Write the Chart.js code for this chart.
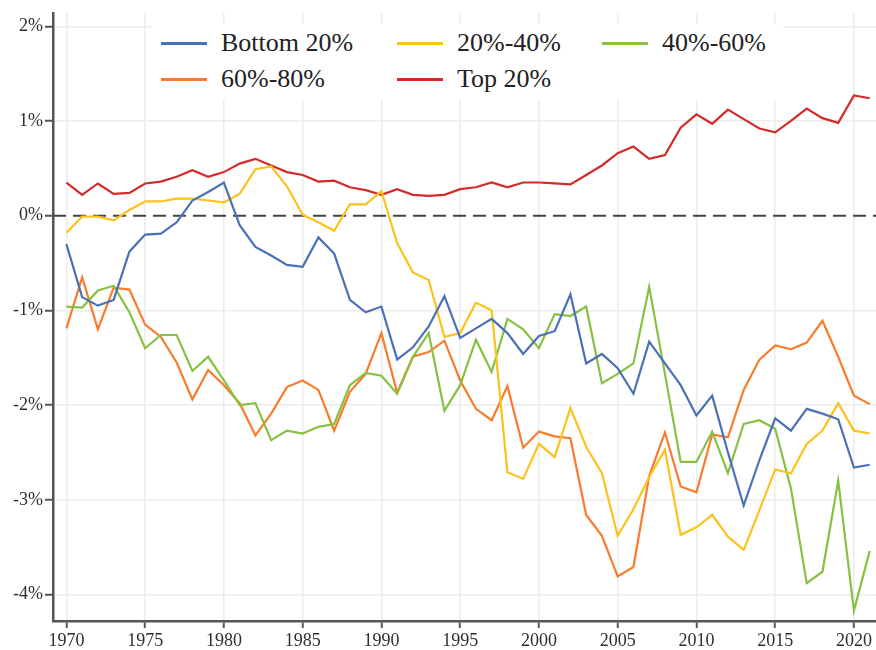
<!DOCTYPE html>
<html>
<head>
<meta charset="utf-8">
<script src="https://cdn.jsdelivr.net/npm/chart.js@4"></script>
<style>
  html, body { margin: 0; padding: 0; background: #fff; }
  #wrap { position: relative; width: 876px; height: 650px; }
  #legend {
    position: absolute; left: 152px; top: 24px; width: 631px; height: 76px;
    background: #fff; font-family: "Liberation Serif", "Times New Roman", serif;
    font-size: 26px; color: #222;
  }
  .item { position: absolute; display: flex; align-items: center; height: 30px; white-space: nowrap; }
  .item i { display: block; width: 46px; height: 3px; margin-right: 14px; }
</style>
</head>
<body>
<div id="wrap">
  <canvas id="c" width="876" height="650"></canvas>
  <div id="legend"></div>
</div>
<script>
// --- Daten ---
const years = [
  1970, 1971, 1972, 1973, 1974, 1975, 1976, 1977, 1978, 1979,
  1980, 1981, 1982, 1983, 1984, 1985, 1986, 1987, 1988, 1989,
  1990, 1991, 1992, 1993, 1994, 1995, 1996, 1997, 1998, 1999,
  2000, 2001, 2002, 2003, 2004, 2005, 2006, 2007, 2008, 2009,
  2010, 2011, 2012, 2013, 2014, 2015, 2016, 2017, 2018, 2019,
  2020, 2021
];

const bottom20 = [
  -0.30, -0.86, -0.95, -0.89, -0.38, -0.20, -0.19, -0.07, 0.16, 0.25,
  0.35, -0.10, -0.33, -0.42, -0.52, -0.54, -0.23, -0.40, -0.89, -1.02,
  -0.96, -1.52, -1.39, -1.17, -0.85, -1.29, -1.19, -1.09, -1.24, -1.46,
  -1.27, -1.22, -0.83, -1.56, -1.46, -1.61, -1.88, -1.33, -1.56, -1.79,
  -2.11, -1.90, -2.50, -3.06, -2.58, -2.14, -2.27, -2.04, -2.09, -2.15,
  -2.66, -2.63
];

const q20to40 = [
  -0.18, -0.01, -0.01, -0.05, 0.06, 0.15, 0.15, 0.18, 0.18, 0.16,
  0.14, 0.23, 0.49, 0.52, 0.31, 0.01, -0.07, -0.16, 0.12, 0.12,
  0.26, -0.29, -0.60, -0.68, -1.28, -1.24, -0.92, -1.00, -2.71, -2.78,
  -2.41, -2.55, -2.03, -2.44, -2.72, -3.38, -3.10, -2.76, -2.47, -3.37,
  -3.29, -3.16, -3.39, -3.53, -3.11, -2.68, -2.72, -2.41, -2.27, -1.98,
  -2.27, -2.30
];

const q40to60 = [
  -0.96, -0.97, -0.79, -0.74, -1.02, -1.40, -1.26, -1.26, -1.64, -1.49,
  -1.74, -2.00, -1.98, -2.37, -2.27, -2.30, -2.23, -2.20, -1.79, -1.66,
  -1.69, -1.88, -1.49, -1.24, -2.06, -1.79, -1.31, -1.65, -1.09, -1.20,
  -1.40, -1.04, -1.06, -0.96, -1.77, -1.67, -1.56, -0.75, -1.67, -2.60,
  -2.60, -2.28, -2.72, -2.20, -2.16, -2.25, -2.88, -3.88, -3.76, -2.80,
  -4.17, -3.54
];

const q60to80 = [
  -1.19, -0.65, -1.20, -0.76, -0.78, -1.15, -1.28, -1.55, -1.94, -1.63,
  -1.79, -1.98, -2.32, -2.09, -1.81, -1.74, -1.84, -2.27, -1.86, -1.67,
  -1.24, -1.87, -1.49, -1.44, -1.32, -1.74, -2.04, -2.16, -1.80, -2.45,
  -2.28, -2.33, -2.35, -3.16, -3.38, -3.81, -3.71, -2.75, -2.29, -2.86,
  -2.92, -2.31, -2.34, -1.84, -1.52, -1.37, -1.41, -1.34, -1.11, -1.49,
  -1.90, -1.99
];

const top20 = [
  0.35, 0.22, 0.34, 0.23, 0.24, 0.34, 0.36, 0.41, 0.48, 0.41,
  0.46, 0.55, 0.60, 0.53, 0.46, 0.43, 0.36, 0.37, 0.30, 0.27,
  0.22, 0.28, 0.22, 0.21, 0.22, 0.28, 0.30, 0.35, 0.30, 0.35,
  0.35, 0.34, 0.33, 0.43, 0.53, 0.66, 0.73, 0.60, 0.64, 0.93,
  1.07, 0.97, 1.12, 1.02, 0.92, 0.88, 1.00, 1.13, 1.03, 0.98,
  1.27, 1.24
];

const seriesNames = ["Bottom 20%", "20%-40%", "40%-60%", "60%-80%", "Top 20%"];
const seriesValues = [bottom20, q20to40, q40to60, q60to80, top20];
const seriesColors = ["#4a70b5", "#fcc21b", "#86c142", "#fb7b2c", "#d42a2a"];

const xTicks = [1970, 1975, 1980, 1985, 1990, 1995, 2000, 2005, 2010, 2015, 2020];
const yTicks = [-4, -3, -2, -1, 0, 1, 2];

// --- Legende (HTML, spaltenweise wie im Original) ---
const legendEl = document.getElementById("legend");
const colLeft = [9, 245, 450];
const rowTop = [4, 40];
seriesNames.forEach((name, i) => {
  const item = document.createElement("div");
  item.className = "item";
  item.style.left = colLeft[i % 3] + "px";
  item.style.top = rowTop[Math.floor(i / 3)] + "px";
  const sw = document.createElement("i");
  sw.style.background = seriesColors[i];
  item.appendChild(sw);
  item.appendChild(document.createTextNode(name));
  legendEl.appendChild(item);
});

// gestrichelte Nulllinie
const zeroLine = {
  id: "zeroLine",
  beforeDatasetsDraw(chart) {
    const { ctx, chartArea: a, scales: { y } } = chart;
    const py = y.getPixelForValue(0);
    ctx.save();
    ctx.strokeStyle = "#444";
    ctx.lineWidth = 2;
    ctx.setLineDash([13, 7]);
    ctx.beginPath();
    ctx.moveTo(a.left, py);
    ctx.lineTo(a.right, py);
    ctx.stroke();
    ctx.restore();
  },
};

const tickFont = { family: "Liberation Serif", size: 18 };
const gridColor = "#ececec";

const draw = () => new Chart(document.getElementById("c"), {
  type: "line",
  data: {
    datasets: seriesNames.map((name, i) => ({
      label: name,
      data: years.map((yr, j) => ({ x: yr, y: seriesValues[i][j] })),
      borderColor: seriesColors[i],
      borderWidth: 2.2,
      pointRadius: 0,
      tension: 0,
      fill: false,
    })),
  },
  options: {
    responsive: false,
    animation: false,
    layout: { padding: { top: 13, right: 0, left: 0, bottom: 0 } },
    plugins: { legend: { display: false }, tooltip: { enabled: false } },
    scales: {
      x: {
        type: "linear",
        min: 1969.15,
        max: 2021.4,
        afterBuildTicks: (s) => { s.ticks = xTicks.map((v) => ({ value: v })); },
        afterFit: (s) => { s.height = 29; },
        ticks: { font: tickFont, color: "#2e2e2e", padding: 2, maxRotation: 0, callback: (v) => String(v) },
        grid: { color: gridColor, lineWidth: 1.5, tickColor: "#555", tickLength: 7, tickWidth: 2 },
        border: { color: "#555", width: 2.5 },
      },
      y: {
        min: -4.28,
        max: 2.14,
        afterBuildTicks: (s) => { s.ticks = yTicks.map((v) => ({ value: v })); },
        afterFit: (s) => { s.width = 53; },
        ticks: { font: tickFont, color: "#2e2e2e", padding: 2, callback: (v) => v + "%" },
        grid: {
          color: (ctx) => (ctx.tick && ctx.tick.value === 0 ? "rgba(0,0,0,0)" : gridColor),
          lineWidth: 1.5,
          tickColor: "#555",
          tickLength: 8,
          tickWidth: 2,
        },
        border: { color: "#555", width: 2.5 },
      },
    },
  },
  plugins: [zeroLine],
});

// Schrift vor dem Zeichnen laden, sonst Fallback auf Sans
document.fonts.load("18px 'Liberation Serif'").then(draw, draw);
</script>
</body>
</html>
